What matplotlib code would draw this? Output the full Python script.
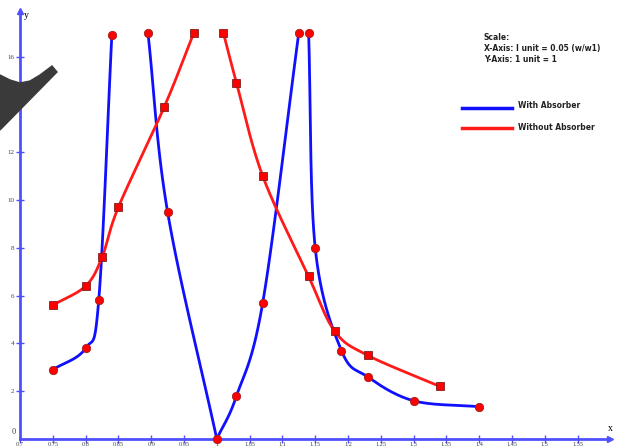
import numpy as np
import matplotlib
matplotlib.use("Agg")
import matplotlib.pyplot as plt
from matplotlib.patches import Polygon

# data
blue_x = [0.75, 0.80, 0.82, 0.84, 0.895, 0.925, 1.00, 1.03, 1.07, 1.125, 1.14, 1.15, 1.19, 1.23, 1.30, 1.40]
blue_y = [2.9, 3.8, 5.8, 16.9, 17.0, 9.5, 0.0, 1.8, 5.7, 17.0, 17.0, 8.0, 3.7, 2.6, 1.6, 1.35]
blue_parts = [(0, 4), (4, 7), (6, 10), (10, 16)]

red_x = [0.75, 0.80, 0.825, 0.85, 0.92, 0.965, 1.01, 1.03, 1.07, 1.14, 1.18, 1.23, 1.34]
red_y = [5.6, 6.4, 7.6, 9.7, 13.9, 17.0, 17.0, 14.9, 11.0, 6.8, 4.5, 3.5, 2.2]
red_parts = [(0, 6), (6, 13)]

xticks = [0.7, 0.75, 0.8, 0.85, 0.9, 0.95, 1.0, 1.05, 1.1, 1.15, 1.2, 1.25, 1.3, 1.35, 1.4, 1.45, 1.5, 1.55]
xlabels = ["0.7", "0.75", "0.8", "0.85", "0.9", "0.95", "1", "1.05", "1.1", "1.15", "1.2", "1.25", "1.3", "1.35", "1.4", "1.45", "1.5", "1.55"]
yticks = [2, 4, 6, 8, 10, 12, 14, 16]


def smooth(xs, ys, n=30):
    # catmull-rom through the points, only for drawing the line
    px = np.array(xs, float)
    py = np.array(ys, float)
    if len(px) < 3:
        return px, py
    px = np.concatenate([[2*px[0]-px[1]], px, [2*px[-1]-px[-2]]])
    py = np.concatenate([[2*py[0]-py[1]], py, [2*py[-1]-py[-2]]])
    ox, oy = [], []
    t = np.linspace(0, 1, n)
    for i in range(1, len(px)-2):
        for p, o in ((px, ox), (py, oy)):
            p0, p1, p2, p3 = p[i-1], p[i], p[i+1], p[i+2]
            o.extend(0.5*((2*p1) + (-p0+p2)*t + (2*p0-5*p1+4*p2-p3)*t**2 + (-p0+3*p1-3*p2+p3)*t**3))
    return np.array(ox), np.array(oy)


fig = plt.figure(figsize=(6.19, 4.48), dpi=100)
ax = fig.add_axes([0, 0, 1, 1])
ax.set_xlim(0.7 - 20/656, 0.7 + 599/656)
ax.set_ylim(-9/23.9, 439/23.9)

axcol = "#5050ff"

# dark blob in the top left of the original
blob = [(0, 75), (10, 80), (20, 83), (30, 81), (40, 75), (52, 66), (57, 72), (0, 130)]
fig.patches.append(Polygon([(a/619, 1-b/448) for a, b in blob], closed=True,
                           transform=fig.transFigure, color="#3a3a3a", zorder=0))

for i, j in blue_parts:
    sx, sy = smooth(blue_x[i:j], blue_y[i:j])
    ax.plot(sx, sy, color="#1010ff", lw=2, zorder=3)
for i, j in red_parts:
    sx, sy = smooth(red_x[i:j], red_y[i:j])
    ax.plot(sx, sy, color="#ff1a1a", lw=2, zorder=3)

ax.plot(blue_x, blue_y, "o", ls="none", ms=6, mfc="red", mec="#a02020", mew=0.6, zorder=4)
ax.plot(red_x, red_y, "s", ls="none", ms=6, mfc="red", mec="#802020", mew=0.6, zorder=4)

for s in ["top", "right"]:
    ax.spines[s].set_visible(False)
ax.spines["left"].set_position(("data", 0.7))
ax.spines["bottom"].set_position(("data", 0))
ax.spines["left"].set_bounds(0, 17.9)
ax.spines["bottom"].set_bounds(0.7, 1.6)
for s in ["left", "bottom"]:
    ax.spines[s].set_color(axcol)
    ax.spines[s].set_linewidth(2)
ax.plot([0.7], [17.9], "^", color=axcol, ms=5, clip_on=False)
ax.plot([1.6], [0], ">", color=axcol, ms=5, clip_on=False)

ax.set_xticks(xticks)
ax.set_xticklabels(xlabels)
ax.set_yticks(yticks)
ax.tick_params(direction="inout", length=6, width=1, color=axcol, labelsize=5,
               labelcolor="#444444", pad=1)
ax.tick_params(axis="x", labelsize=4.5, pad=-1)
for lab in ax.get_xticklabels() + ax.get_yticklabels():
    lab.set_family("Liberation Serif")
ax.text(0.7 - 0.006, 0.3, "0", fontsize=6, ha="right", va="center", family="Liberation Serif", color="#444444")
ax.text(0.706, 17.7, "y", fontsize=7, ha="left", va="center", family="Liberation Serif")
ax.text(1.6, 0.45, "x", fontsize=7, ha="center", va="center", family="Liberation Serif")

# scale note and legend
fnt = dict(fontsize=5.5, fontweight="bold", family="Liberation Sans Narrow", color="#222222",
           transform=fig.transFigure, va="center")
fig.text(484/619, 1-37/448, "Scale:", **fnt)
fig.text(484/619, 1-49/448, "X-Axis: I unit = 0.05 (w/w1)", **fnt)
fig.text(484/619, 1-60/448, "Y-Axis: 1 unit = 1", **fnt)
fig.add_artist(plt.Line2D([462/619, 512/619], [1-108/448]*2, color="#1010ff", lw=2.5))
fig.add_artist(plt.Line2D([462/619, 512/619], [1-128/448]*2, color="#ff1a1a", lw=2.5))
fig.text(518/619, 1-105/448, "With Absorber", **fnt)
fig.text(518/619, 1-128/448, "Without Absorber", **fnt)

fig.savefig("out.png", dpi=100)
